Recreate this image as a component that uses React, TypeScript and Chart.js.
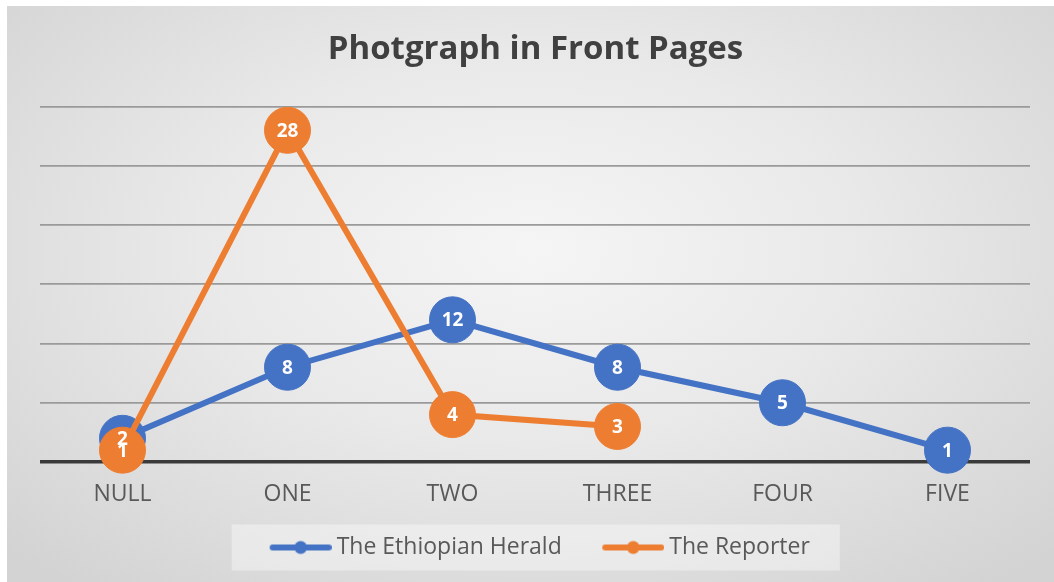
import React, { useEffect, useRef } from "react";
import { Chart, registerables } from "chart.js";

Chart.register(...registerables);

const categories = ["NULL", "ONE", "TWO", "THREE", "FOUR", "FIVE"];
const heraldValues: (number | null)[] = [2, 8, 12, 8, 5, 1];
const reporterValues: (number | null)[] = [1, 28, 4, 3, null, null];
const seriesNames = ["The Ethiopian Herald", "The Reporter"];
const yMin = 0;
const yMax = 30;
const yStep = 5;
const titleText = "Photgraph in Front Pages";

const BLUE = "#4472C4";
const ORANGE = "#ED7D31";
const FONT = '"Open Sans", sans-serif';

function makeLegendMarker(color: string): HTMLCanvasElement {
  const W = 99;
  const H = 16;
  const c = document.createElement("canvas");
  c.width = W;
  c.height = H;
  const ctx = c.getContext("2d")!;
  ctx.strokeStyle = color;
  ctx.lineWidth = 6;
  ctx.lineCap = "round";
  ctx.beginPath();
  ctx.moveTo(40, H / 2);
  ctx.lineTo(96, H / 2);
  ctx.stroke();
  ctx.fillStyle = color;
  ctx.beginPath();
  ctx.arc(68, H / 2, 6.5, 0, Math.PI * 2);
  ctx.fill();
  return c;
}

const valueLabels = {
  id: "valueLabels",
  afterDatasetsDraw(chart: any) {
    const ctx = chart.ctx;
    ctx.save();
    ctx.font = `bold 19px ${FONT}`;
    ctx.fillStyle = "#ffffff";
    ctx.textAlign = "center";
    ctx.textBaseline = "middle";
    chart.data.datasets.forEach((ds: any, di: number) => {
      const meta = chart.getDatasetMeta(di);
      meta.data.forEach((pt: any, i: number) => {
        const v = ds.data[i];
        if (v === null || v === undefined) return;
        ctx.fillText(String(v), pt.x, pt.y + 1);
      });
    });
    ctx.restore();
  },
};

const legendShift = {
  id: "legendShift",
  afterLayout(chart: any) {
    const lg = chart.legend;
    if (!lg) return;
    lg.left -= 11;
    lg.right -= 11;
  },
};

const legendBox = {
  id: "legendBox",
  beforeDraw(chart: any) {
    const lg = chart.legend;
    if (!lg || !lg.legendHitBoxes || !lg.legendHitBoxes.length) return;
    const hbs = lg.legendHitBoxes;
    const first = hbs[0];
    const last = hbs[hbs.length - 1];
    const cy = first.top + first.height / 2;
    const left = first.left + 30.5 - 38;
    const right = last.left + last.width + 30;
    const ctx = chart.ctx;
    ctx.save();
    ctx.fillStyle = "rgba(255,255,255,0.38)";
    ctx.fillRect(left, cy - 23, right - left, 46);
    ctx.restore();
  },
};

export default function App() {
  const canvasRef = useRef<HTMLCanvasElement | null>(null);

  useEffect(() => {
    if (!canvasRef.current) return;
    Chart.defaults.font.family = FONT;
    const markers = [makeLegendMarker(BLUE), makeLegendMarker(ORANGE)];
    const chart = new Chart(canvasRef.current, {
      type: "line",
      data: {
        labels: categories,
        datasets: [
          {
            label: seriesNames[0],
            data: heraldValues,
            borderColor: BLUE,
            backgroundColor: BLUE,
            pointBackgroundColor: BLUE,
            pointBorderColor: BLUE,
            borderWidth: 6,
            pointRadius: 23,
            pointHoverRadius: 23,
            pointBorderWidth: 1,
            tension: 0,
            clip: false as any,
            order: 1,
          },
          {
            label: seriesNames[1],
            data: reporterValues,
            borderColor: ORANGE,
            backgroundColor: ORANGE,
            pointBackgroundColor: ORANGE,
            pointBorderColor: ORANGE,
            borderWidth: 6,
            pointRadius: 23,
            pointHoverRadius: 23,
            pointBorderWidth: 1,
            tension: 0,
            clip: false as any,
            order: 0,
          },
        ],
      },
      options: {
        responsive: false,
        animation: false,
        layout: { padding: { left: 33, right: 23, top: 0, bottom: 13 } },
        plugins: {
          title: {
            display: true,
            text: titleText,
            color: "#404040",
            font: { size: 33, weight: "bold", family: FONT },
            padding: { top: 24, bottom: 37 },
          },
          legend: {
            position: "bottom",
            labels: {
              usePointStyle: true,
              pointStyleWidth: 86,
              padding: 10,
              color: "#595959",
              font: { size: 23, family: FONT },
              generateLabels: (ch: any) => {
                const items = (Chart.defaults.plugins.legend.labels as any).generateLabels(ch);
                items.forEach((it: any) => {
                  it.pointStyle = markers[it.datasetIndex];
                  it.fontColor = "#595959";
                });
                return items.sort((a: any, b: any) => a.datasetIndex - b.datasetIndex);
              },
            },
          },
          tooltip: { enabled: false },
        },
        scales: {
          x: {
            offset: true,
            grid: { display: false, drawTicks: false },
            border: { display: false },
            ticks: { color: "#595959", font: { size: 23, family: FONT }, padding: 19 },
            afterFit: (s: any) => {
              s.height = 64;
              s.paddingLeft = 0;
              s.paddingRight = 0;
            },
          },
          y: {
            min: yMin,
            max: yMax,
            ticks: { stepSize: yStep, display: false },
            grid: {
              drawTicks: false,
              color: (c: any) => (c.tick && c.tick.value === 0 ? "#3a3a3a" : "#9a9a9a"),
              lineWidth: (c: any) => (c.tick && c.tick.value === 0 ? 3.5 : 1.8),
            },
            border: { display: false },
            afterFit: (s: any) => {
              s.width = 0;
            },
          },
        },
      },
      plugins: [legendShift, legendBox, valueLabels],
    } as any);
    return () => chart.destroy();
  }, []);

  return (
    <div
      style={{
        position: "absolute",
        left: 7,
        top: 6,
        width: 1047,
        height: 576,
        background:
          "radial-gradient(ellipse 70% 75% at 50% 42%, #f5f5f5 0%, #e9e9e9 45%, #d3d3d3 100%)",
      }}
    >
      <canvas ref={canvasRef} width={1047} height={576} style={{ display: "block" }} />
    </div>
  );
}
